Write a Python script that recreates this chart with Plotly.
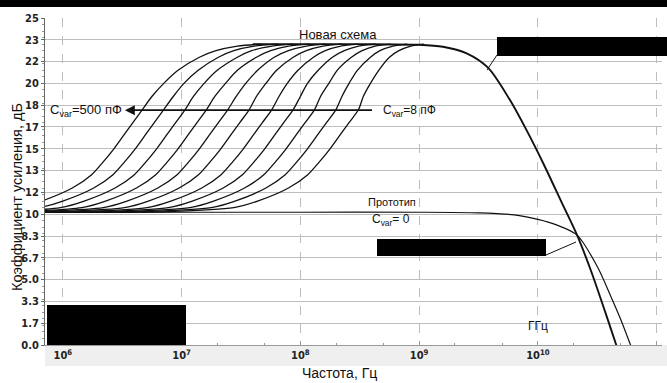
import plotly.graph_objects as go

# ---------------------------------------------------------------------------
# Data (frequency as log10(Hz), gain in dB)
# ---------------------------------------------------------------------------

# gain levels at which each "new scheme" curve was read
RISE_DB = [10.2, 10.5, 11, 12, 13, 14, 15, 16, 17, 18, 19, 20, 21, 22, 22.5, 22.85, 23.0]

# log10(f) of each curve at those levels, Cvar = 500 pF ... 8 pF
RISE_LOGF = [
    [5.07, 5.62, 5.82, 6.08, 6.24, 6.34, 6.43, 6.51, 6.59, 6.67, 6.75, 6.85, 6.97, 7.15, 7.29, 7.47, 7.67],
    [5.25, 5.80, 6.00, 6.26, 6.42, 6.52, 6.61, 6.69, 6.77, 6.85, 6.93, 7.02, 7.14, 7.31, 7.44, 7.61, 7.81],
    [5.43, 5.98, 6.18, 6.44, 6.60, 6.70, 6.79, 6.87, 6.95, 7.03, 7.10, 7.19, 7.30, 7.47, 7.59, 7.76, 7.94],
    [5.61, 6.16, 6.36, 6.62, 6.78, 6.88, 6.97, 7.05, 7.13, 7.21, 7.28, 7.37, 7.47, 7.63, 7.75, 7.90, 8.08],
    [5.79, 6.34, 6.54, 6.80, 6.96, 7.06, 7.15, 7.23, 7.31, 7.39, 7.46, 7.54, 7.64, 7.78, 7.90, 8.05, 8.21],
    [5.97, 6.52, 6.72, 6.98, 7.14, 7.24, 7.33, 7.41, 7.49, 7.57, 7.63, 7.71, 7.80, 7.94, 8.05, 8.19, 8.35],
    [6.16, 6.71, 6.91, 7.17, 7.33, 7.43, 7.52, 7.60, 7.68, 7.76, 7.82, 7.89, 7.98, 8.11, 8.21, 8.34, 8.49],
    [6.34, 6.89, 7.09, 7.35, 7.51, 7.61, 7.70, 7.78, 7.86, 7.94, 8.00, 8.06, 8.15, 8.27, 8.37, 8.49, 8.63],
    [6.52, 7.07, 7.27, 7.53, 7.69, 7.79, 7.88, 7.96, 8.04, 8.12, 8.17, 8.24, 8.31, 8.43, 8.52, 8.63, 8.76],
    [6.70, 7.25, 7.45, 7.71, 7.87, 7.97, 8.06, 8.14, 8.22, 8.30, 8.35, 8.41, 8.48, 8.59, 8.67, 8.78, 8.90],
    [6.89, 7.44, 7.64, 7.90, 8.06, 8.16, 8.25, 8.33, 8.41, 8.49, 8.53, 8.59, 8.66, 8.75, 8.83, 8.93, 9.04],
]
FLOOR_LOGF = 5.7
FLOOR_DB = 10.15

# common plateau + roll-off of the new scheme
BUNDLE_LOGF = [7.6, 8.0, 8.5, 9.0, 9.2, 9.4, 9.58, 9.76, 9.9, 10.05, 10.2, 10.33, 10.45, 10.59, 10.66, 10.7]
BUNDLE_DB = [23.0, 23.0, 23.0, 22.95, 22.8, 22.3, 21.2, 18.8, 16.5, 13.8, 10.9, 8.4, 5.6, 1.9, 0.0, -1.0]

# prototype, Cvar = 0
PROTO_LOGF = [5.7, 7.0, 8.0, 9.0, 9.5, 9.8, 10.0, 10.15, 10.33, 10.5, 10.62, 10.70, 10.78, 10.82]
PROTO_DB = [10.15, 10.15, 10.15, 10.15, 10.1, 9.95, 9.6, 9.2, 8.4, 6.0, 3.6, 1.9, 0.0, -1.0]

Y_TICKS = [0, 1.67, 3.33, 5, 6.67, 8.33, 10, 11.67, 13.33, 15, 16.67, 18.33, 20, 21.67, 23.33, 25]
Y_LABELS = ["0.0", "1.7", "3.3", "5.0", "6.7", "8.3", "10", "12", "13", "15",
            "17", "18", "20", "22", "23", "25"]
X_DECADES = [6, 7, 8, 9, 10, 11]

# ---------------------------------------------------------------------------
# Layout constants
# ---------------------------------------------------------------------------
W, H = 667, 383
ML, MR, MT, MB = 45, 5, 18, 38
LINE = "#111111"
GRID = "#bdbdbd"
TXT_FONT = "Liberation Sans, Arial, sans-serif"
TICK_FONT = "DejaVu Sans Condensed, Liberation Sans Narrow, sans-serif"


def px(x, y):
    """Window pixel -> paper coordinates."""
    pw, ph = W - ML - MR, H - MT - MB
    return (x - ML) / pw, (H - MB - y) / ph


fig = go.Figure()

for row in RISE_LOGF:
    xs, ys = list(row), list(RISE_DB)
    if xs[0] > FLOOR_LOGF:
        xs = [FLOOR_LOGF] + xs
        ys = [FLOOR_DB] + ys
    fig.add_trace(go.Scatter(
        x=[10 ** v for v in xs], y=ys, mode="lines",
        line=dict(color=LINE, width=1.3, shape="spline", smoothing=0.8),
        showlegend=False, hoverinfo="skip",
    ))

fig.add_trace(go.Scatter(
    x=[10 ** v for v in BUNDLE_LOGF], y=BUNDLE_DB, mode="lines",
    line=dict(color=LINE, width=1.9, shape="spline", smoothing=0.8),
    showlegend=False, hoverinfo="skip",
))
fig.add_trace(go.Scatter(
    x=[10 ** v for v in PROTO_LOGF], y=PROTO_DB, mode="lines",
    line=dict(color=LINE, width=1.2, shape="spline", smoothing=0.8),
    showlegend=False, hoverinfo="skip",
))

# --- redaction boxes, pointer lines, grey tick band -----------------------
shapes = []


def rect(x0, y0, x1, y1, color, layer="above"):
    a, b = px(x0, y1)
    c, d = px(x1, y0)
    shapes.append(dict(type="rect", xref="paper", yref="paper", x0=a, y0=b, x1=c, y1=d,
                       fillcolor=color, line=dict(width=0), layer=layer))


def seg(x0, y0, x1, y1):
    a, b = px(x0, y0)
    c, d = px(x1, y1)
    shapes.append(dict(type="line", xref="paper", yref="paper", x0=a, y0=b, x1=c, y1=d,
                       line=dict(color=LINE, width=1)))


rect(45, 345, 667, 366, "#efefef", layer="below")
rect(0, 0, 667, 7, "black")
rect(497, 37, 667, 56, "black")
rect(377, 239, 546, 256, "black")
rect(47, 305, 186, 345, "black")
seg(497, 55, 487, 70)
seg(546, 255, 576, 242)

ann = [
    dict(x=8.32, y=23.75, text="Новая схема", size=13),
    dict(x=5.873, y=17.95, text="C<sub>var</sub>=500 пФ", xanchor="left", size=13),
    dict(x=8.675, y=17.9, text="C<sub>var</sub>=8 пФ", xanchor="left", size=12),
    dict(x=8.77, y=10.95, text="Прототип", size=11),
    dict(x=8.76, y=9.55, text="C<sub>var</sub>= 0", size=12),
    dict(x=10.0, y=1.45, text="ГГц", size=12),
]
annotations = []
for a in ann:
    a = dict(a)
    size = a.pop("size")
    d = dict(xref="x", yref="y", showarrow=False, xanchor="center", yanchor="middle",
             font=dict(family=TXT_FONT, size=size, color=LINE))
    d.update(a)
    annotations.append(d)

# arrow from 8 pF to 500 pF
annotations.append(dict(
    x=6.523, y=17.95, ax=8.616, ay=17.95, xref="x", yref="y", axref="x", ayref="y",
    text="", showarrow=True, arrowhead=2, arrowsize=1.1, arrowwidth=1.8, arrowcolor=LINE,
))

tx, ty = px(339, 373)
annotations.append(dict(x=tx, y=ty, xref="paper", yref="paper", text="Частота, Гц",
                        xanchor="center", yanchor="middle", showarrow=False,
                        font=dict(family=TXT_FONT, size=14, color=LINE)))
tx, ty = px(17, 197)
annotations.append(dict(x=tx, y=ty, xref="paper", yref="paper", text="Коэффициент усиления, дБ",
                        textangle=-90, xanchor="center", yanchor="middle", showarrow=False,
                        font=dict(family=TXT_FONT, size=14.5, color=LINE)))

fig.update_layout(
    width=W, height=H,
    margin=dict(l=ML, r=MR, t=MT, b=MB),
    paper_bgcolor="white", plot_bgcolor="white",
    shapes=shapes, annotations=annotations,
    xaxis=dict(
        type="log", range=[5.85, 11.045],
        tickvals=[10 ** d for d in X_DECADES],
        ticktext=[f"10<sup>{d}</sup>" for d in X_DECADES],
        tickfont=dict(family=TICK_FONT, size=11, color="#222", weight="bold"),
        showgrid=True, gridcolor=GRID, griddash="dash", gridwidth=1,
        showline=True, linecolor="#999", linewidth=1,
        ticks="inside", ticklen=4, tickcolor="#999",
        minor=dict(ticks="inside", ticklen=2, tickcolor="#999", showgrid=False),
        zeroline=False,
    ),
    yaxis=dict(
        range=[0, 25], tickvals=Y_TICKS, ticktext=Y_LABELS,
        tickfont=dict(family=TICK_FONT, size=11, color="#222", weight="bold"),
        showgrid=True, gridcolor=GRID, gridwidth=1,
        showline=True, linecolor="#666", linewidth=1,
        ticks="outside", ticklen=3, tickcolor="#666",
        minor=dict(ticks="outside", ticklen=2, tickcolor="#999", dtick=0.5),
        zeroline=False,
    ),
)

# page body has an 8px default margin; drop it so the figure fills the window
fig.write_html("out.html", config={"displayModeBar": False},
               post_script="document.body.style.margin = '0';")
